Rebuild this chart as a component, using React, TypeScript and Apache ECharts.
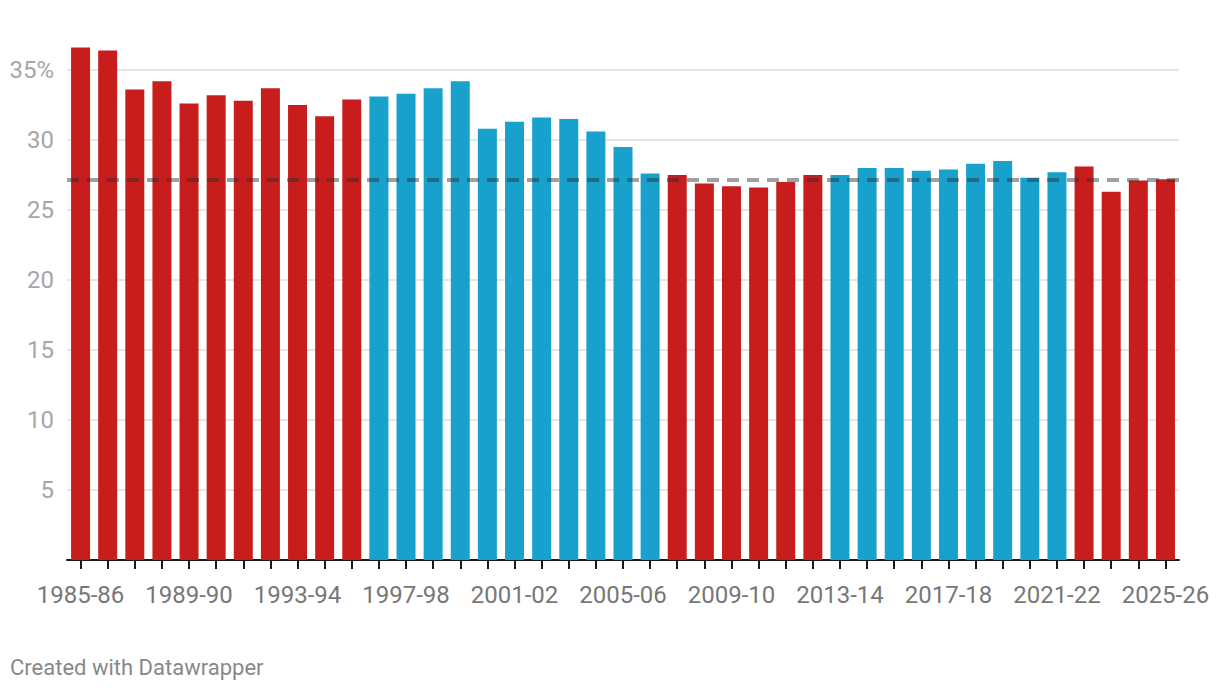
import React, { useEffect, useRef } from "react";
import * as echarts from "echarts";

const categories = [
  "1985-86", "1986-87", "1987-88", "1988-89", "1989-90", "1990-91", "1991-92", "1992-93",
  "1993-94", "1994-95", "1995-96", "1996-97", "1997-98", "1998-99", "1999-00", "2000-01",
  "2001-02", "2002-03", "2003-04", "2004-05", "2005-06", "2006-07", "2007-08", "2008-09",
  "2009-10", "2010-11", "2011-12", "2012-13", "2013-14", "2014-15", "2015-16", "2016-17",
  "2017-18", "2018-19", "2019-20", "2020-21", "2021-22", "2022-23", "2023-24", "2024-25",
  "2025-26",
];

const values = [
  36.6, 36.4, 33.6, 34.2, 32.6, 33.2, 32.8, 33.7,
  32.5, 31.7, 32.9, 33.1, 33.3, 33.7, 34.2, 30.8,
  31.3, 31.6, 31.5, 30.6, 29.5, 27.6, 27.5, 26.9,
  26.7, 26.6, 27.0, 27.5, 27.5, 28.0, 28.0, 27.8,
  27.9, 28.3, 28.5, 27.3, 27.7, 28.1, 26.3, 27.1,
  27.2,
];

// R = red, B = blue
const groups = [
  "R", "R", "R", "R", "R", "R", "R", "R",
  "R", "R", "R", "B", "B", "B", "B", "B",
  "B", "B", "B", "B", "B", "B", "R", "R",
  "R", "R", "R", "R", "B", "B", "B", "B",
  "B", "B", "B", "B", "B", "R", "R", "R",
  "R",
];

const averageValue = 27.14;
const yTicks = [0, 5, 10, 15, 20, 25, 30, 35];

const RED = "#c71e1d";
const BLUE = "#18a1cd";
const FONT = "Roboto, 'Noto Sans', sans-serif";

export default function App() {
  const ref = useRef<HTMLDivElement>(null);

  useEffect(() => {
    document.body.style.margin = "0";
    const chart = echarts.init(ref.current!, null, { renderer: "svg" });
    chart.setOption({
      animation: false,
      backgroundColor: "#ffffff",
      textStyle: { fontFamily: FONT },
      grid: { left: 67, right: 41, top: 70, bottom: 132, containLabel: false },
      xAxis: {
        type: "category",
        data: categories,
        axisLine: { show: true, lineStyle: { color: "#1a1a1a", width: 2 } },
        axisTick: {
          show: true,
          alignWithLabel: true,
          interval: 0,
          length: 9,
          lineStyle: { color: "#1a1a1a", width: 2 },
        },
        axisLabel: {
          interval: 3,
          color: "#777777",
          fontSize: 24,
          fontFamily: FONT,
          margin: 23,
        },
      },
      yAxis: {
        type: "value",
        min: yTicks[0],
        max: yTicks[yTicks.length - 1],
        interval: 5,
        axisLine: { show: false },
        axisTick: { show: false },
        splitLine: { show: true, lineStyle: { color: "#e6e6e6", width: 2 } },
        axisLabel: {
          color: "#a6a6a6",
          fontSize: 24,
          fontFamily: FONT,
          margin: 13,
          formatter: (v: number) => (v === 0 ? "" : v === 35 ? "35%" : String(v)),
        },
      },
      series: [
        {
          type: "bar",
          clip: false,
          barWidth: "70%",
          data: values.map((v, i) => ({
            value: v,
            itemStyle: { color: groups[i] === "R" ? RED : BLUE },
          })),
          markLine: {
            silent: true,
            symbol: ["none", "none"],
            label: { show: false },
            lineStyle: { color: "rgba(45,45,45,0.45)", width: 4, type: [12, 8] },
            data: [{ yAxis: averageValue }],
          },
        },
      ],
      graphic: [
        {
          type: "text",
          left: 10,
          top: 656,
          style: {
            text: "Created with Datawrapper",
            fill: "#888888",
            fontSize: 22,
            fontFamily: FONT,
          },
        },
      ],
    });
    return () => chart.dispose();
  }, []);

  return <div ref={ref} style={{ width: 1220, height: 692 }} />;
}
